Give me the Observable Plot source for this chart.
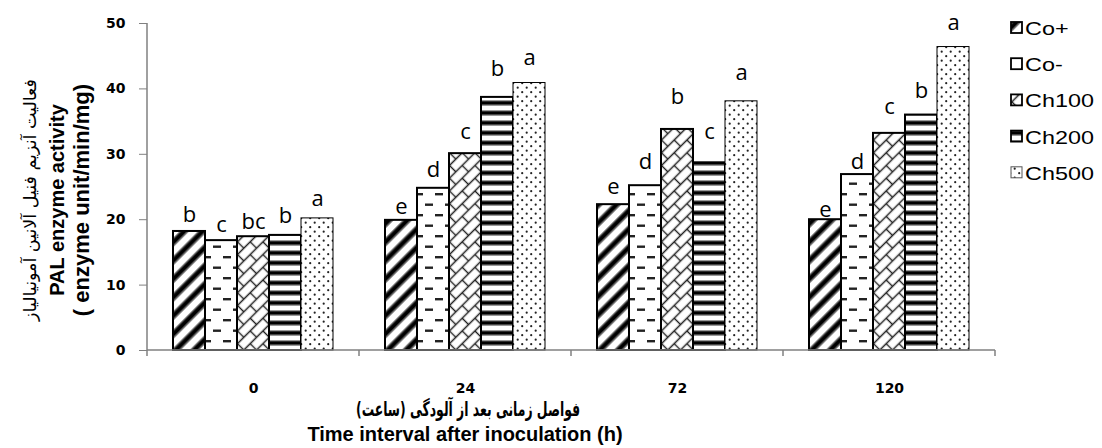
<!DOCTYPE html>
<html><head><meta charset="utf-8">
<script src="https://cdn.jsdelivr.net/npm/d3@7"></script>
<script src="https://cdn.jsdelivr.net/npm/@observablehq/plot@0.6"></script>
<style>body{margin:0;background:#fff}</style>
</head><body><div id="chart"></div>
<script>
// ---- data ----
const times = ["0", "24", "72", "120"];
const series = ["Co+", "Co-", "Ch100", "Ch200", "Ch500"];
const valCoPlus  = [18.2, 19.9, 22.3, 20.0];
const valCoMinus = [16.8, 24.8, 25.2, 26.9];
const valCh100   = [17.4, 30.1, 33.8, 33.2];
const valCh200   = [17.6, 38.7, 28.7, 36.0];
const valCh500   = [20.2, 40.9, 38.1, 46.4];
// significance letters (Duncan groups) and the height (data units) they sit at
const letCoPlus  = ["b", "e", "e", "e"];
const letCoMinus = ["c", "d", "d", "d"];
const letCh100   = ["bc", "c", "b", "c"];
const letCh200   = ["b", "b", "c", "b"];
const letCh500   = ["a", "a", "a", "a"];
const hCoPlus  = [19.6, 20.9, 23.9, 20.4];
const hCoMinus = [18.1, 26.6, 27.8, 27.8];
const hCh100   = [18.6, 32.4, 37.7, 36.2];
const hCh200   = [19.5, 42.0, 32.4, 38.6];
const hCh500   = [22.1, 43.6, 41.3, 49.0];
const yTicks = [0, 10, 20, 30, 40, 50];
const yTitleFa = "فعالیت آنزیم فنیل آلانین آمونیالیاز";
const yTitle1 = "PAL enzyme activity";
const yTitle2 = "( enzyme unit/min/mg)";
const xTitleFa = "فواصل زمانی بعد از آلودگی (ساعت)";
const xTitle = "Time interval after inoculation (h)";

const vals = [valCoPlus, valCoMinus, valCh100, valCh200, valCh500];
const lets = [letCoPlus, letCoMinus, letCh100, letCh200, letCh500];
const hs = [hCoPlus, hCoMinus, hCh100, hCh200, hCh500];
const rows = [];
times.forEach((t, i) => series.forEach((s, j) => rows.push({
  time: t, series: s, value: vals[j][i], letter: lets[j][i], labelY: hs[j][i]
})));

const plot = Plot.plot({
  width: 1102, height: 448,
  marginLeft: 145, marginRight: 106, marginTop: 23, marginBottom: 98,
  style: {background: "white", color: "black", fontFamily: "DejaVu Sans"},
  fx: {domain: times, padding: 0, label: null},
  x: {domain: series, paddingInner: 0, paddingOuter: 0.727, axis: null},
  y: {domain: [0, 50], label: null},
  color: {domain: series, range: series.map((s, i) => `url(#pat${i})`)},
  marks: [
    Plot.axisY({ticks: yTicks, tickSize: 8, tickPadding: 14, fontSize: 14, fontWeight: "bold",
      stroke: "#808080", fill: "black", label: null}),
    Plot.axisFx({anchor: "bottom", tickSize: 0, tickPadding: 33, fontSize: 14, fontWeight: "bold",
      fill: "black", label: null}),
    Plot.text(rows, {fx: "time", x: "series", y: "labelY", text: "letter", lineAnchor: "bottom",
      fontSize: 22, fontFamily: "Open Sans", fill: "black"}),
    Plot.barY(rows, {fx: "time", x: "series", y: "value", fill: "series", stroke: "black",
      strokeWidth: d => d.series === "Ch500" ? 1 : 2})
  ]
});

const svg = d3.select(plot);
const defs = svg.insert("defs", ":first-child");
defs.html(`
<pattern id="pat0" patternUnits="userSpaceOnUse" width="13" height="13" patternTransform="rotate(45)">
  <rect width="13" height="13" fill="white"/>
  <rect x="3" width="1.2" height="13" fill="#888"/><rect x="4.2" width="4.6" height="13" fill="black"/><rect x="8.8" width="1.2" height="13" fill="#888"/>
</pattern>
<pattern id="pat1" patternUnits="userSpaceOnUse" width="20" height="21">
  <rect width="20" height="21" fill="white"/>
  <rect x="1" y="4" width="8" height="2.4" fill="#222"/><rect x="11" y="14.5" width="8" height="2.4" fill="#222"/>
</pattern>
<pattern id="pat2" patternUnits="userSpaceOnUse" width="18" height="18" patternTransform="rotate(-45)">
  <rect width="18" height="18" fill="white"/>
  <path d="M0,4.5H18M0,13.5H18M4.5,4.5V13.5M13.5,13.5V18M13.5,0V4.5" stroke="#222" stroke-width="1.4" fill="none"/>
</pattern>
<pattern id="pat3" patternUnits="userSpaceOnUse" width="10" height="10">
  <rect width="10" height="10" fill="white"/>
  <rect y="0" width="10" height="1.2" fill="#999"/><rect y="1.2" width="10" height="3.6" fill="black"/><rect y="4.8" width="10" height="1.2" fill="#999"/>
</pattern>
<pattern id="pat4" patternUnits="userSpaceOnUse" width="9" height="9">
  <rect width="9" height="9" fill="white"/>
  <circle cx="2.2" cy="2.2" r="1.1" fill="#222"/><circle cx="6.7" cy="6.7" r="1.1" fill="#222"/>
</pattern>`);

const y = plot.scale("y"), fx = plot.scale("fx");
const x0 = fx.apply(times[0]), bw = fx.bandwidth;
const x1 = fx.apply(times[times.length - 1]) + bw;
const y0 = y.apply(0), yTop = y.apply(50);
const axes = svg.append("g").attr("stroke", "#808080").attr("stroke-width", 1.5);
axes.append("line").attr("x1", x0).attr("x2", x0).attr("y1", yTop).attr("y2", y0);
axes.append("line").attr("x1", x0).attr("x2", x1).attr("y1", y0).attr("y2", y0);
times.forEach(t => {
  const xb = fx.apply(t);
  axes.append("line").attr("x1", xb).attr("x2", xb).attr("y1", y0).attr("y2", y0 + 6);
});
axes.append("line").attr("x1", x1).attr("x2", x1).attr("y1", y0).attr("y2", y0 + 6);

// y-axis title (three rotated lines)
const yc = 200;
svg.append("text").attr("transform", `translate(36,${yc}) rotate(-90)`).attr("text-anchor", "middle")
  .attr("direction", "rtl").style("font", "17.5px 'DejaVu Sans'").text(yTitleFa);
svg.append("text").attr("transform", `translate(64,${yc}) rotate(-90)`).attr("text-anchor", "middle")
  .style("font", "bold 20px 'Liberation Sans'").text(yTitle1);
svg.append("text").attr("transform", `translate(89,${yc}) rotate(-90)`).attr("text-anchor", "middle")
  .style("font", "bold 22px 'Liberation Sans'").text(yTitle2);

// x-axis titles
svg.append("text").attr("transform", "translate(468,416) scale(0.62,1)").attr("text-anchor", "middle")
  .attr("direction", "rtl").style("font", "bold 20px 'DejaVu Sans'").text(xTitleFa);
svg.append("text").attr("x", 465).attr("y", 441).attr("text-anchor", "middle")
  .style("font", "bold 20px 'Liberation Sans'").text(xTitle);

// legend
const lg = svg.append("g").attr("text-anchor", "start");
series.forEach((s, i) => {
  const base = 35 + i * 36.2;
  lg.append("rect").attr("x", 1011).attr("y", base - 13).attr("width", 11).attr("height", 11)
    .attr("fill", `url(#pat${i})`).attr("stroke", i === 4 ? "#555" : "black").attr("stroke-width", i === 4 ? 1 : 1.8);
  lg.append("text").attr("transform", `translate(1025,${base}) scale(1.3,1)`)
    .attr("text-anchor", "start").style("font", "18px 'Liberation Sans'").text(s);
});

document.getElementById("chart").appendChild(plot);
</script></body></html>
